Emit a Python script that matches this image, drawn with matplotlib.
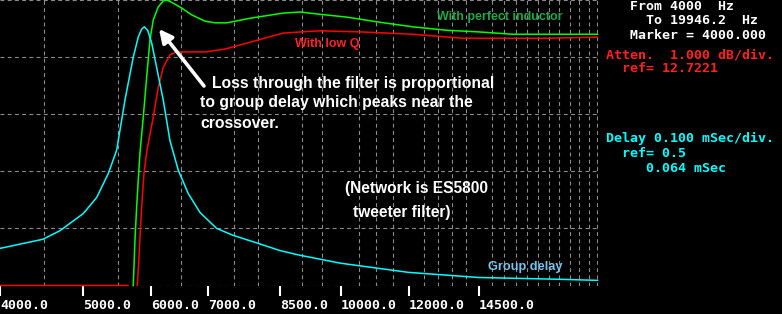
import matplotlib
matplotlib.use("Agg")
import matplotlib.pyplot as plt
from matplotlib.ticker import FixedLocator, NullFormatter

# Frequency sweep 4000 Hz .. 19946.2 Hz, log axis
f_min = 4000.0
f_max = 19946.2

# Attenuation with perfect inductor (dB, relative to ref, 1 dB/div)
green_f = [5724, 5750, 5776, 5801, 5828, 5880, 5934, 5987, 6040, 6122, 6204, 6262,
           6346, 6519, 6697, 6940, 7130, 7363, 7833, 8560, 8960, 9455, 10166,
           11110, 12140, 13302, 14536, 15884, 19946]
green_db = [-5.0, -4.21, -3.63, -3.16, -2.68, -2.05, -1.35, -0.70, -0.35, -0.12,
            -0.02, 0.0, -0.04, -0.14, -0.26, -0.37, -0.40, -0.40, -0.32, -0.23,
            -0.21, -0.25, -0.30, -0.39, -0.47, -0.53, -0.56, -0.60, -0.60]

# Attenuation with low-Q inductor (None = off the bottom of the screen)
red_f = [4000, 5643, 5700, 5786, 5812, 5854, 5891, 5939, 6040, 6122, 6204, 6317,
         6432, 6577, 6940, 7324, 7833, 8560, 8960, 9455, 10613, 12140, 13886,
         17404, 19946]
red_db = [-5.0, -5.0, None, -5.0, -4.51, -3.63, -3.04, -2.63, -2.05, -1.53, -1.18,
          -0.96, -0.91, -0.91, -0.91, -0.86, -0.74, -0.58, -0.56, -0.54, -0.56,
          -0.60, -0.67, -0.67, -0.65]

# Group delay (mSec, 0.1 mSec/div, ref 0.5 at top)
delay_f = [4000, 4490, 4700, 5004, 5187, 5352, 5474, 5598, 5724, 5801, 5854, 5896,
           5950, 6014, 6095, 6204, 6317, 6460, 6636, 6848, 7162, 7483, 8000, 8500,
           8960, 10000, 12000, 14500, 17880, 19946]
delay_ms = [0.065, 0.081, 0.096, 0.126, 0.154, 0.196, 0.237, 0.325, 0.400, 0.435,
            0.449, 0.453, 0.447, 0.425, 0.382, 0.325, 0.254, 0.202, 0.161, 0.128,
            0.100, 0.088, 0.074, 0.061, 0.053, 0.039, 0.023, 0.014, 0.011, 0.009]

label_ticks = [4000, 5000, 6000, 7000, 8500, 10000, 12000, 14500]
grid_ticks = list(range(4500, 20000, 500)) + [f_max]

red_db = [float("nan") if v is None else v for v in red_db]

W, H = 782, 314
fig = plt.figure(figsize=(W / 100, H / 100), dpi=100, facecolor="black")
ax = fig.add_axes([0, (H - 285.5) / H, 597.5 / W, 285.5 / H])
ax.set_facecolor("black")
ax.set_xscale("log")
ax.set_xlim(f_min, f_max)
ax.set_ylim(-5.0, 0.0)
for s in ax.spines.values():
    s.set_visible(False)

mono = dict(family="DejaVu Sans Mono", weight="bold", size=9.5)

ax.xaxis.set_major_locator(FixedLocator(label_ticks))
ax.set_xticklabels([f"{v:.1f}" for v in label_ticks], color="white", **mono)
for lab in ax.get_xticklabels():
    lab.set_horizontalalignment("left")
ax.xaxis.set_minor_locator(FixedLocator(grid_ticks))
ax.xaxis.set_minor_formatter(NullFormatter())
ax.tick_params(axis="x", which="major", direction="out", length=7.5, width=1.5,
               color="white", pad=2)
ax.tick_params(axis="x", which="minor", length=0)
ax.set_yticks([-5, -4, -3, -2, -1, 0])
ax.tick_params(axis="y", length=0, labelleft=False)
ax.grid(True, which="minor", axis="x", color="#8c8c8c", lw=0.8, ls=(0, (3.5, 3)))
ax.grid(True, which="major", axis="y", color="#8c8c8c", lw=0.8, ls=(0, (3.5, 3)))
ax.set_axisbelow(True)

ax2 = ax.twinx()
ax2.set_ylim(0, 0.5)
ax2.axis("off")

ax2.plot(delay_f, delay_ms, color="#00ffff", lw=1.1, clip_on=False)
ax.plot(green_f, green_db, color="#00ff00", lw=1.1, clip_on=False)
ax.plot(red_f, red_db, color="#ff0000", lw=1.1, clip_on=False)


def ftext(x, y, s, va="center", **kw):
    fig.text(x / W, 1 - y / H, s, va=va, ha="left", **kw)


sans = dict(family="Liberation Sans", weight="bold")
ftext(437, 17, "With perfect inductor", color="#22a64a", size=9, **sans)
ftext(295, 44, "With low Q", color="#ff2020", size=9, **sans)
ftext(488, 267, "Group delay", color="#78c4ec", size=9.2, **sans)
ftext(212, 83, "Loss through the filter is proportional", color="white", size=11.3, **sans)
ftext(200, 103, "to group delay which peaks near the", color="white", size=11.3, **sans)
ftext(200, 123, "crossover.", color="white", size=11.3, **sans)
ftext(345, 188, "(Network is ES5800", color="white", size=11.2, **sans)
ftext(353, 212, "tweeter filter)", color="white", size=11.2, **sans)

ax.annotate("", xy=(159, H - 29), xycoords="figure pixels",
            xytext=(204, H - 86), textcoords="figure pixels",
            arrowprops=dict(arrowstyle="-|>", color="white", lw=2.6,
                            mutation_scale=20, shrinkA=0, shrinkB=0))

# readout panel
ftext(630, 0, "From 4000  Hz\n  To 19946.2  Hz\nMarker = 4000.000", va="top",
      color="white", linespacing=1.15, **mono)
ftext(606, 48, "Atten.  1.000 dB/div.\n  ref= 12.7221", va="top",
      color="#ff2020", linespacing=1.1, **mono)
ftext(606, 132, "Delay 0.100 mSec/div.\n  ref= 0.5\n     0.064 mSec", va="top",
      color="#00ffff", linespacing=1.2, **mono)

fig.savefig("out.png", dpi=100, facecolor="black")
